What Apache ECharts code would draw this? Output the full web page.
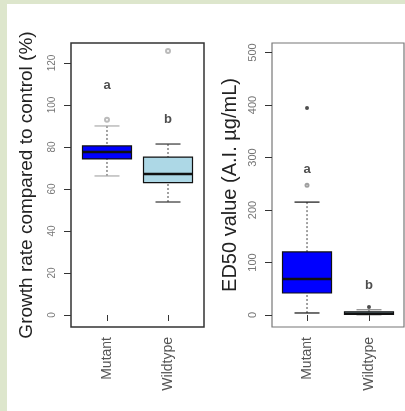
<!DOCTYPE html>
<html>
<head>
<meta charset="utf-8">
<script src="https://cdn.jsdelivr.net/npm/echarts@6/dist/echarts.min.js"></script>
<style>html,body{margin:0;padding:0;background:#dde6cc}#c{width:405px;height:411px}</style>
</head>
<body>
<div id="c"></div>
<script>
// ---- data ----
var categories = ['Mutant', 'Wildtype'];
var growthTicks = [0, 20, 40, 60, 80, 100, 120];
// [x, min, Q1, median, Q3, max]
var growthMutant = [1, 66.2, 74.3, 77.6, 80.5, 90];
var growthWildtype = [2, 53.8, 63.0, 67.1, 75.2, 81.4];
var growthOutliers = [[1, 93], [2, 125.7]];
var growthLetters = [[1, 109.5, 'a'], [2, 93, 'b']];

var ed50Ticks = [0, 100, 200, 300, 400, 500];
var ed50Mutant = [1, 3.8, 41.9, 68.6, 120, 215];
var ed50Wildtype = [2, 0.3, 1.0, 2.5, 6.0, 10];
var ed50OutliersFaint = [[1, 247]];
var ed50Outliers = [[1, 394], [2, 15]];
var ed50Letters = [[1, 278, 'a'], [2, 57, 'b']];

var boxFills = ['#0000ff', '#add8e6'];

function makeRender(capColors) {
  return function (params, api) {
    var x = api.value(0);
    var lo = api.coord([x, api.value(1)]);
    var q1 = api.coord([x, api.value(2)]);
    var md = api.coord([x, api.value(3)]);
    var q3 = api.coord([x, api.value(4)]);
    var hi = api.coord([x, api.value(5)]);
    var cx = lo[0], half = 24.5, cap = 12.5;
    var wStyle = { stroke: '#444', lineWidth: 1, lineDash: [2, 2] };
    var cStyle = { stroke: capColors[params.dataIndex], lineWidth: 1.2 };
    return {
      type: 'group',
      children: [
        { type: 'line', shape: { x1: cx, y1: hi[1], x2: cx, y2: q3[1] }, style: wStyle },
        { type: 'line', shape: { x1: cx, y1: lo[1], x2: cx, y2: q1[1] }, style: wStyle },
        { type: 'line', shape: { x1: cx - cap, y1: hi[1], x2: cx + cap, y2: hi[1] }, style: cStyle },
        { type: 'line', shape: { x1: cx - cap, y1: lo[1], x2: cx + cap, y2: lo[1] }, style: cStyle },
        { type: 'rect', shape: { x: cx - half, y: q3[1], width: 2 * half, height: Math.max(q1[1] - q3[1], 1) },
          style: { fill: boxFills[params.dataIndex], stroke: '#111', lineWidth: 1.2 } },
        { type: 'line', shape: { x1: cx - half, y1: md[1], x2: cx + half, y2: md[1] }, style: { stroke: '#111', lineWidth: 2.5 } }
      ]
    };
  };
}

var fontFam = 'Liberation Sans, Arial, sans-serif';

function xAxisDef(idx, min, max) {
  return {
    gridIndex: idx, type: 'value', min: min, max: max,
    splitLine: { show: false },
    axisLine: { show: false },
    axisTick: { show: true, customValues: [1, 2], length: 6, lineStyle: { color: '#333' } },
    axisLabel: { customValues: [1, 2], rotate: 90, margin: 10, fontSize: 14, color: '#555', fontFamily: fontFam,
      formatter: function (v) { return categories[Math.round(v) - 1] || ''; } }
  };
}
function yAxisDef(idx, min, max, ticks, name, gap, fs) {
  return {
    gridIndex: idx, type: 'value', min: min, max: max,
    splitLine: { show: false },
    axisLine: { show: false },
    axisTick: { show: true, customValues: ticks, length: 7, lineStyle: { color: '#333' } },
    axisLabel: { customValues: ticks, rotate: 90, margin: 14, fontSize: fs, color: '#777', fontFamily: fontFam },
    name: name, nameLocation: 'middle', nameRotate: 90, nameGap: gap,
    nameTextStyle: { fontSize: idx === 0 ? 19 : 20, color: '#222', fontFamily: fontFam }
  };
}

var option = {
  backgroundColor: '#dde6cc',
  animation: false,
  graphic: [{ type: 'rect', left: 7, top: 4, shape: { width: 398, height: 407 }, style: { fill: '#ffffff' }, z: -10 }],
  grid: [
    { left: 71, top: 43, width: 133, height: 284, show: true, borderColor: '#333', borderWidth: 1.5, backgroundColor: 'transparent' },
    { left: 272, top: 43, width: 132, height: 284, show: true, borderColor: '#777', borderWidth: 1.2, backgroundColor: 'transparent' }
  ],
  xAxis: [xAxisDef(0, 0.41, 2.59), xAxisDef(1, 0.435, 2.565)],
  yAxis: [
    yAxisDef(0, -5.71, 129.5, growthTicks, 'Growth rate compared to control (%)', 35, 10),
    yAxisDef(1, -22.9, 518, ed50Ticks, 'ED50 value (A.I. µg/mL)', 32, 11)
  ],
  series: [
    { type: 'custom', xAxisIndex: 0, yAxisIndex: 0, renderItem: makeRender(['#aaa', '#333']), data: [growthMutant, growthWildtype], encode: { x: 0, y: [1, 2, 3, 4, 5] } },
    { type: 'custom', xAxisIndex: 1, yAxisIndex: 1, renderItem: makeRender(['#111', '#888']), data: [ed50Mutant, ed50Wildtype], encode: { x: 0, y: [1, 2, 3, 4, 5] } },
    { type: 'scatter', xAxisIndex: 0, yAxisIndex: 0, data: growthOutliers, symbol: 'emptyCircle', symbolSize: 4, itemStyle: { color: '#aaa', borderColor: '#aaa' } },
    { type: 'scatter', xAxisIndex: 1, yAxisIndex: 1, data: ed50OutliersFaint, symbol: 'emptyCircle', symbolSize: 3, itemStyle: { color: '#888', borderColor: '#888' } },
    { type: 'scatter', xAxisIndex: 1, yAxisIndex: 1, data: ed50Outliers, symbol: 'circle', symbolSize: 4, itemStyle: { color: '#222' } },
    { type: 'scatter', xAxisIndex: 0, yAxisIndex: 0, data: growthLetters, symbolSize: 0,
      label: { show: true, position: 'inside', formatter: function (p) { return p.value[2]; }, fontSize: 13, fontWeight: 'bold', color: '#222', fontFamily: fontFam } },
    { type: 'scatter', xAxisIndex: 1, yAxisIndex: 1, data: ed50Letters, symbolSize: 0,
      label: { show: true, position: 'inside', formatter: function (p) { return p.value[2]; }, fontSize: 13, fontWeight: 'bold', color: '#222', fontFamily: fontFam } }
  ]
};
var chart = echarts.init(document.getElementById('c'), null, { renderer: 'canvas' });
chart.setOption(option);
</script>
</body>
</html>
